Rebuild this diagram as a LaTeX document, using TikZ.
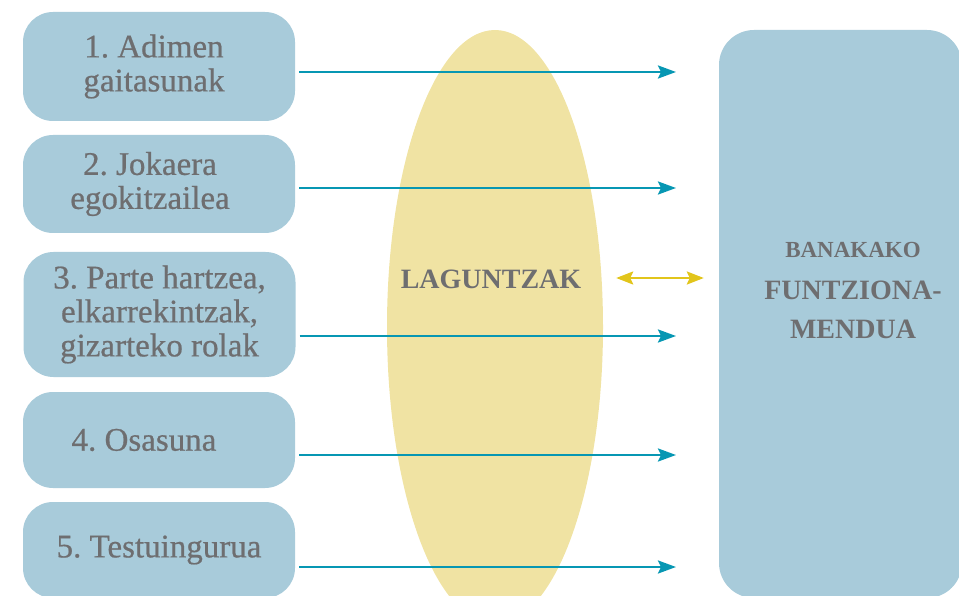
\documentclass[tikz,border=0pt]{standalone}
\usepackage{fontspec}
\setmainfont{Liberation Serif}
\newfontfamily\boxfont[FakeBold=0.6]{Liberation Serif}
\usetikzlibrary{shapes.geometric,arrows.meta}
\definecolor{boxblue}{HTML}{A8CBDA}
\definecolor{ellyellow}{HTML}{F0E3A3}
\definecolor{tealA}{HTML}{0797B3}
\definecolor{goldA}{HTML}{E2C51B}
\definecolor{txtgray}{HTML}{6E6E70}
\begin{document}
\frenchspacing
\begin{tikzpicture}[x=1pt,y=-1pt,
  leftbox/.style={fill=boxblue, rounded corners=30pt, minimum width=272pt, inner sep=0pt,
    align=center, text=txtgray, font=\boxfont\fontsize{33}{34}\selectfont},
  bigbox/.style={fill=boxblue, rounded corners=35pt, minimum width=243pt, minimum height=568pt, inner sep=0pt},
  ellbox/.style={ellipse, fill=ellyellow, minimum width=216pt, minimum height=594pt, inner sep=0pt},
  boldtxt/.style={text=txtgray, font=\bfseries\fontsize{28}{30}\selectfont, inner sep=0pt, anchor=base},
  flow/.style={draw=tealA, line width=2.5pt, shorten <=4pt, -{Stealth[length=18pt,width=13pt,inset=3pt]}},
  link/.style={draw=goldA, line width=2.5pt, {Stealth[length=17pt,width=13pt,inset=3pt]}-{Stealth[length=17pt,width=13pt,inset=3pt]}}
]
\useasboundingbox (0,0) rectangle (959,596);

% ellipse and big box
\node[ellbox] (ell) at (495,327) {};
\node[bigbox] (big) at (840.5,314) {};

% left boxes
\node[leftbox, minimum height=109pt] (b1) at (159,66.5) {1. Adimen\hspace*{10pt}\\gaitasunak\hspace*{10pt}};
\node[leftbox, minimum height=98pt] (b2) at (159,184) {2. Jokaera\hspace*{18pt}\\egokitzailea\hspace*{18pt}};
\node[leftbox, minimum height=125pt] (b3) at (159.5,314.5) {3. Parte hartzea,\\elkarrekintzak,\\gizarteko rolak};
\node[leftbox, minimum height=96pt] (b4) at (159,440) {4. Osasuna\hspace*{30pt}};
\node[leftbox, minimum height=96pt] (b5) at (159,550) {5. Testuingurua};

% texts
\node[boldtxt] (lag) at (491,289) {LAGUNTZAK};
\node[boldtxt, font=\bfseries\fontsize{23}{25}\selectfont] (bt1) at (853,258) {BANAKAKO};
\node[boldtxt] (bt2) at (853,300) {FUNTZIONA-};
\node[boldtxt] (bt3) at (853,338) {MENDUA};

% arrow ends
\coordinate (a1) at (676,72);
\coordinate (a2) at (676,188);
\coordinate (a3) at (676,336);
\coordinate (a4) at (676,455);
\coordinate (a5) at (676,567);
\coordinate (ya) at (616,278);

\draw[flow] (b1.east |- a1) -- (a1);
\draw[flow] (b2.east |- a2) -- (a2);
\draw[flow] (b3.east |- a3) -- (a3);
\draw[flow] (b4.east |- a4) -- (a4);
\draw[flow] (b5.east |- a5) -- (a5);

\draw[link, shorten <=13pt, shorten >=15pt] (ell.east |- ya) -- (big.west |- ya);
\end{tikzpicture}
\end{document}
